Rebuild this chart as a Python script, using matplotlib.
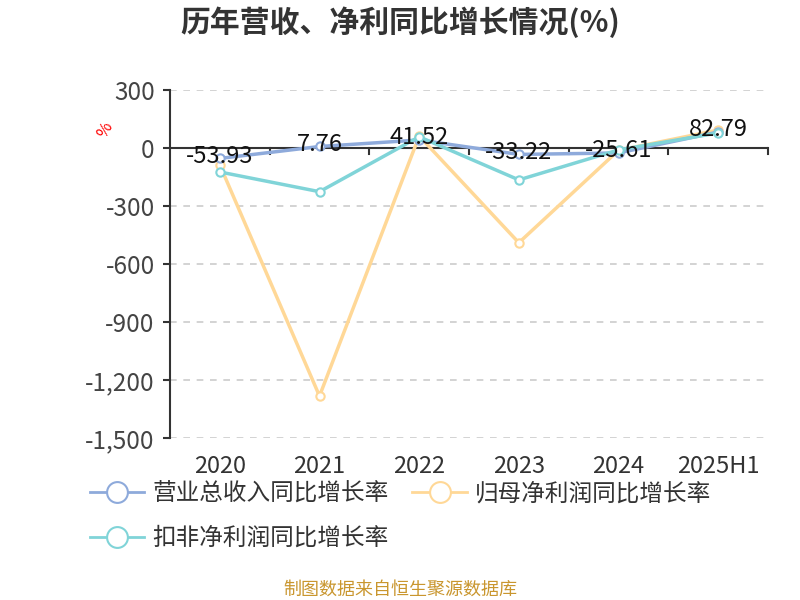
import matplotlib
matplotlib.use('Agg')
import matplotlib.pyplot as plt
import numpy as np
from matplotlib.ticker import FuncFormatter

plt.rcParams['font.family'] = ['Noto Sans CJK SC', 'DejaVu Sans']

years = ['2020', '2021', '2022', '2023', '2024', '2025H1']
revenue = [-53.93, 7.76, 41.52, -33.22, -25.61, 82.79]
net_profit = [-88, -1283, 62, -490, -12, 93]
deducted = [-124, -226, 58, -165, -10, 78]
names = ['营业总收入同比增长率', '归母净利润同比增长率', '扣非净利润同比增长率']
colors = ['#8eaadb', '#ffd897', '#80d4d8']

fig = plt.figure(figsize=(8, 6), dpi=100)
ax = fig.add_axes([0.2125, 0.27, 0.7475, 0.58])
x = np.arange(len(years))

# draw order: profit underneath, then revenue, then deducted
for vals, c, z in [(net_profit, colors[1], 3), (revenue, colors[0], 4), (deducted, colors[2], 5)]:
    ax.plot(x, vals, color=c, lw=2.5, marker='o', ms=6, mfc='white', mec=c, mew=1.5, zorder=z)

for i, v in enumerate(revenue):
    ax.text(x[i], v + 12, f'{v:.2f}', ha='center', va='center', fontsize=17, color='#111111', zorder=6)

ax.set_xlim(-0.5, len(years) - 0.5)
ax.set_ylim(-1500, 300)
ax.set_yticks(np.arange(-1500, 301, 300))
ax.yaxis.set_major_formatter(FuncFormatter(lambda v, p: f'{int(v):,}'))
ax.grid(axis='y', color='#cccccc', ls=(0, (4, 4)), lw=1.2)
ax.set_axisbelow(True)
for s in ['top', 'right', 'bottom']:
    ax.spines[s].set_visible(False)
ax.spines['left'].set_color('#333333')
ax.spines['left'].set_linewidth(1.5)
ax.tick_params(axis='y', colors='#333333', labelsize=17.5, length=5, width=1.5, pad=6)
ax.tick_params(axis='y', labelcolor='#444444')
ax.set_xticks(x)
ax.set_xticklabels(years)
ax.tick_params(axis='x', length=0, labelsize=17, labelcolor='#333333', pad=12)

# zero line with category boundary ticks
ax.axhline(0, color='#333333', lw=1.5, zorder=2)
for b in np.arange(0.5, len(years), 1.0):
    ax.plot([b, b], [0, -30], color='#333333', lw=1.5, zorder=2, clip_on=False)

ax.text(-1.15, 93, '%', color='red', fontsize=12, rotation=60, ha='center', va='center')

fig.text(0.5, 0.963, '历年营收、净利同比增长情况(%)', ha='center', va='center',
         fontsize=21.5, fontweight='bold', color='#333333')

handles = [plt.Line2D([], [], color=c, lw=2, marker='o', ms=15, mfc='white', mec=c, mew=1.5)
           for c in colors]
fig.legend(handles[:2], names[:2], loc='upper left', bbox_to_anchor=(0.1125, 0.196),
           ncol=2, frameon=False, fontsize=17, handlelength=2.3, columnspacing=1.0,
           handletextpad=0.35, labelcolor='#333333', borderaxespad=0, borderpad=0)
fig.legend(handles[2:], names[2:], loc='upper left', bbox_to_anchor=(0.1125, 0.122),
           frameon=False, fontsize=17, handlelength=2.3, handletextpad=0.35,
           labelcolor='#333333', borderaxespad=0, borderpad=0)

fig.text(0.5, 0.017, '制图数据来自恒生聚源数据库', ha='center', va='center', fontsize=13, color='#c9962e')

fig.savefig('out.png', dpi=100)
